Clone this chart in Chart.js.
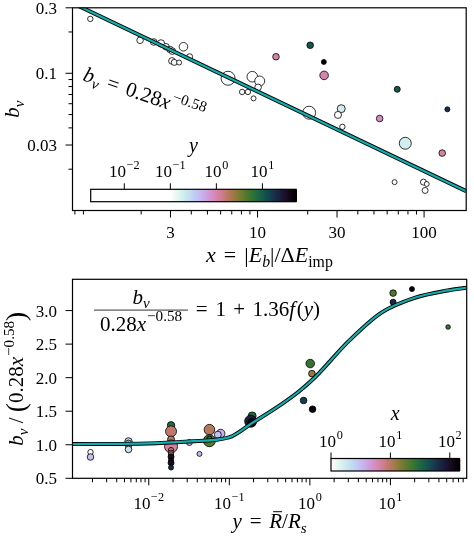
<!DOCTYPE html>
<html>
<head>
<meta charset="utf-8">
<script src="https://cdn.jsdelivr.net/npm/chart.js@4.4.1/dist/chart.umd.min.js"></script>
<style>
html, body { margin: 0; padding: 0; background: #fff; }
canvas { display: block; }
</style>
</head>
<body>
<canvas id="topChart" width="474" height="272"></canvas>
<canvas id="bottomChart" width="474" height="266"></canvas>
<script>
const SERIF = '"Liberation Serif", "DejaVu Serif", serif';

// top panel: x = |E_b|/dE_imp vs b_v, colour = y, marker radius
const topX = [0.99, 1.97, 2.38, 2.63, 2.82, 2.98, 3.08, 3.59, 3.91, 3.06, 3.16, 3.38,
    6.65, 9.30, 10.3, 10.07, 8.08, 8.75, 9.46, 12.9, 20.7, 25.0, 25.1, 20.4,
    31.8, 30.4, 32.3, 69.0, 54.1, 138, 77.1, 128.5, 66.5, 99.1, 103.7, 101.4];
const topB = [0.249, 0.174, 0.169, 0.165, 0.156, 0.149, 0.145, 0.156, 0.132, 0.123, 0.120, 0.1197,
    0.092, 0.0944, 0.0878, 0.079, 0.0731, 0.0731, 0.0656, 0.132, 0.160, 0.121, 0.0965, 0.0516,
    0.0552, 0.0497, 0.0407, 0.0764, 0.0468, 0.0546, 0.0309, 0.0262, 0.0161, 0.0161, 0.0156, 0.0140];
const topYc = [0.0019, 0.0056, 0.0056, 0.0056, 0.0056, 0.0189, 0.0319, 0.078, 0.0319, 0.0019, 0.0189, 0.0426,
    0.0189, 0.0189, 0.0566, 0.0189, 0.0189, 0.0189, 0.0189, 1.06, 10.8, 52, 1.01, 0.0566,
    0.192, 0.0189, 0.0566, 10.8, 0.836, 18.5, 0.184, 1.08, 0.0189, 0.0189, 0.0189, 0.0189];
const topR = [2.7, 3.3, 3.3, 3.7, 3.3, 3.3, 3.3, 4.3, 3, 3.3, 3, 2.5,
    7, 5.3, 5, 3.3, 2.7, 2.7, 2.5, 3.3, 3.3, 2.5, 4.3, 6.5,
    4, 3.5, 2.7, 3, 3.3, 2.5, 6, 3.3, 2.5, 3, 2.5, 3];

// bottom panel: y = R/R_s vs b_v/(0.28x^-0.58), colour = x
const botY = [0.00189, 0.00189, 0.0056, 0.0056, 0.0056, 0.0056, 0.0189, 0.0189, 0.0189, 0.0189, 0.0189, 0.0189,
    0.0189, 0.0189, 0.0189, 0.0189, 0.0189, 0.0319, 0.0426, 0.0566, 0.0566, 0.0566, 0.078, 0.072,
    0.192, 0.184, 0.19, 0.836, 1.08, 1.01, 1.06, 10.8, 10.8, 18.5, 52];
const botRatio = [0.89, 0.817, 1.05, 1.02, 0.99, 0.93, 1.29, 1.20, 1.08, 0.975, 0.92, 0.88,
    0.86, 0.82, 0.77, 0.73, 0.66, 1.033, 0.864, 1.225, 1.06, 1.09, 1.167, 1.15,
    1.43, 1.35, 1.33, 1.66, 1.53, 2.21, 2.06, 3.26, 3.125, 3.32, 2.755];
const botXc = [1.0, 3.06, 2.63, 2.82, 2.4, 1.97, 30.4, 9.3, 10.07, 6.65, 8.75, 8.08,
    9.46, 99, 104, 101, 66.5, 3.9, 3.38, 10.3, 20.4, 32.3, 3.59, 3.0,
    31.8, 77.1, 120, 54.1, 128.5, 25.1, 12.9, 20.7, 69, 138, 25];
const botR = [2.7, 3.3, 3.7, 3.3, 3.3, 3.3, 3.7, 5.5, 3.5, 6.5, 2.7, 2.7,
    2.5, 3, 2.5, 3, 2.5, 3, 2.5, 5.3, 6, 2.7, 4.3, 3.5,
    4, 6, 4, 3.3, 3.3, 4.3, 3.3, 3.3, 3, 2.5, 2.3];

// fit lines
const fitX = [0.774, 179];
const fitB = [0.3245, 0.01383];
const curveY = [0.00113, 0.01, 0.0318, 0.0991, 0.19, 0.451, 0.724, 1.167, 3.006, 7.74, 20.0, 51.5, 89.1];
const curveRatio = [1.01, 1.02, 1.05, 1.11, 1.32, 1.61, 1.79, 2.01, 2.54, 2.97, 3.19, 3.30, 3.34];

// ticks
const topXTicks = [3, 10, 30, 100];
const topXLabels = ['3', '10', '30', '100'];
const topXMinor = [0.8, 0.9, 2, 4, 5, 6, 7, 8, 9, 20, 40, 50, 60, 70, 80, 90];
const topYTicks = [0.03, 0.1, 0.3];
const topYLabels = ['0.03', '0.1', '0.3'];
const topYMinor = [0.02, 0.04, 0.05, 0.06, 0.07, 0.08, 0.09, 0.2];
const botXExp = [-2, -1, 0, 1];
const botYTicks = [0.5, 1.0, 1.5, 2.0, 2.5, 3.0];
const topCbarExp = [-2, -1, 0, 1];
const botCbarExp = [0, 1, 2];

function cubehelix(s) {
    const a = s * (1 - s) / 2;
    const phi = 2 * Math.PI * (0.5 / 3 - 1.5 * s);
    const c = Math.cos(phi), sn = Math.sin(phi);
    const ch = (p0, p1) => Math.round(255 * Math.min(1, Math.max(0, s + a * (p0 * c + p1 * sn))));
    return `rgb(${ch(-0.14861, 1.78277)},${ch(-0.29227, -0.90649)},${ch(1.97294, 0)})`;
}
const clamp01 = v => Math.min(1, Math.max(0, v));
const yLogColor = ly => cubehelix(1 - clamp01((ly + 1) / 2.73));
const xLogColor = lx => cubehelix(1 - clamp01(lx / 2.16));

// segs: [text, style]; style letters: i italic, ^ sup, _ sub, b overbar, L large, g gap (text = em)
function drawRich(ctx, segs, x, y, size, align) {
    const parts = segs.map(s => {
        const st = s[1] || '';
        if (st === 'g') return { gap: true, w: size * s[0] };
        let fs = size, dy = 0;
        if (st.includes('^')) { fs = size * 0.72; dy = -size * 0.45; }
        if (st.includes('_')) { fs = size * 0.72; dy = size * 0.22; }
        if (st.includes('L')) { fs = size * 1.3; dy = size * 0.08; }
        const font = (st.includes('i') ? 'italic ' : '') + fs + 'px ' + SERIF;
        ctx.font = font;
        return { t: s[0], font, dy, fs, w: ctx.measureText(s[0]).width, bar: st.includes('b') };
    });
    const total = parts.reduce((a, p) => a + p.w, 0);
    let cx = align === 'center' ? x - total / 2 : align === 'right' ? x - total : x;
    ctx.textAlign = 'left';
    ctx.textBaseline = 'alphabetic';
    ctx.fillStyle = '#000';
    for (const p of parts) {
        if (!p.gap) {
            ctx.font = p.font;
            ctx.fillText(p.t, cx, y + p.dy);
            if (p.bar) ctx.fillRect(cx + p.w * 0.3, y - p.fs * 0.8, p.w * 0.7, 1);
        }
        cx += p.w;
    }
    return total;
}

const pow10 = e => [['10'], [0.04, 'g'], [(e < 0 ? '\u2212' : '') + Math.abs(e), '^']];
const EQ = [[0.12, 'g'], [' = '], [0.12, 'g']];

function frame(ctx, a) {
    ctx.strokeStyle = '#000';
    ctx.lineWidth = 1.2;
    ctx.strokeRect(a.left, a.top, a.right - a.left, a.bottom - a.top);
}
function xTicks(ctx, scale, a, vals, len) {
    ctx.strokeStyle = '#000';
    ctx.lineWidth = 1;
    vals.forEach(v => {
        const p = scale.getPixelForValue(v);
        if (p < a.left - 0.5 || p > a.right + 0.5) return;
        ctx.beginPath(); ctx.moveTo(p, a.bottom); ctx.lineTo(p, a.bottom + len); ctx.stroke();
    });
}
function yTicks(ctx, scale, a, vals, len) {
    ctx.strokeStyle = '#000';
    ctx.lineWidth = 1;
    vals.forEach(v => {
        const p = scale.getPixelForValue(v);
        ctx.beginPath(); ctx.moveTo(a.left - len, p); ctx.lineTo(a.left, p); ctx.stroke();
    });
}
function colorbar(ctx, x0, y0, w, h, lo, hi, colorFn, exps, label, labelY, tickY) {
    for (let i = 0; i < w; i++) {
        const v = lo + (hi - lo) * (i + 0.5) / w;
        ctx.fillStyle = colorFn(v);
        ctx.fillRect(x0 + i, y0, 1.3, h);
    }
    ctx.strokeStyle = '#000';
    ctx.lineWidth = 1.2;
    ctx.strokeRect(x0, y0, w, h);
    ctx.lineWidth = 1;
    exps.forEach(e => {
        const p = x0 + (e - lo) / (hi - lo) * w;
        ctx.beginPath(); ctx.moveTo(p, y0); ctx.lineTo(p, y0 - 6); ctx.stroke();
        drawRich(ctx, pow10(e), p, tickY, 17, 'center');
    });
    drawRich(ctx, [[label, 'i']], x0 + w / 2, labelY, 20, 'center');
}

const topDeco = {
    id: 'topDeco',
    afterDraw(chart) {
        const { ctx, chartArea: a, scales: { x, y } } = chart;
        ctx.save();
        frame(ctx, a);
        xTicks(ctx, x, a, topXTicks, 7);
        xTicks(ctx, x, a, topXMinor, 4);
        yTicks(ctx, y, a, topYTicks, 7);
        yTicks(ctx, y, a, topYMinor, 4);
        topXTicks.forEach((v, i) => drawRich(ctx, [[topXLabels[i]]], x.getPixelForValue(v), 237.5, 17, 'center'));
        topYTicks.forEach((v, i) => drawRich(ctx, [[topYLabels[i]]], 57, y.getPixelForValue(v) + 6, 17, 'right'));
        drawRich(ctx, [['x', 'i']].concat(EQ, [['|'], ['E', 'i'], ['b', 'i_'], ['|/\u0394'], ['E', 'i'], ['imp', '_']]),
            (a.left + a.right) / 2, 262, 22, 'center');
        ctx.save();
        ctx.translate(19, (a.top + a.bottom) / 2);
        ctx.rotate(-Math.PI / 2);
        drawRich(ctx, [['b', 'i'], ['v', 'i_']], 0, 0, 21, 'center');
        ctx.restore();
        ctx.save();
        ctx.translate(82, 80);
        ctx.rotate(19 * Math.PI / 180);
        drawRich(ctx, [['b', 'i'], ['v', 'i_']].concat(EQ, [['0.28'], ['x', 'i'], [0.05, 'g'], ['\u22120.58', '^']]),
            0, 0, 21, 'left');
        ctx.restore();
        colorbar(ctx, 90.7, 189.3, 205.3, 12.4, -2.73, 1.73, yLogColor, topCbarExp, 'y', 152, 177);
        ctx.restore();
    }
};

// bottom canvas starts at page y = 272
const botDeco = {
    id: 'botDeco',
    afterDraw(chart) {
        const { ctx, chartArea: a, scales: { x, y } } = chart;
        ctx.save();
        frame(ctx, a);
        const minors = [];
        for (let e = -3; e <= 1; e++) for (let m = 2; m <= 9; m++) minors.push(m * Math.pow(10, e));
        xTicks(ctx, x, a, botXExp.map(e => Math.pow(10, e)), 7);
        xTicks(ctx, x, a, minors, 4);
        yTicks(ctx, y, a, botYTicks, 7);
        botXExp.forEach(e => drawRich(ctx, pow10(e), x.getPixelForValue(Math.pow(10, e)), 236.5, 17, 'center'));
        botYTicks.forEach(v => drawRich(ctx, [[v.toFixed(1)]], 57, y.getPixelForValue(v) + 6, 17, 'right'));
        drawRich(ctx, [['y', 'i']].concat(EQ, [['R', 'ib'], ['/'], ['R', 'i'], ['s', 'i_']]),
            (a.left + a.right) / 2, 256, 21, 'center');
        ctx.save();
        ctx.translate(23, (a.top + a.bottom) / 2);
        ctx.rotate(-Math.PI / 2);
        drawRich(ctx, [['b', 'i'], ['v', 'i_'], [' / '], ['(', 'L'], ['0.28'], ['x', 'i'], [0.05, 'g'],
            ['\u22120.58', '^'], [')', 'L']], 0, 0, 21, 'center');
        ctx.restore();
        // fraction annotation
        drawRich(ctx, [['b', 'i'], ['v', 'i_']], 141, 31.5, 21, 'center');
        ctx.fillStyle = '#555';
        ctx.fillRect(94, 37.5, 94, 1.2);
        drawRich(ctx, [['0.28'], ['x', 'i'], [0.05, 'g'], ['\u22120.58', '^']], 141, 58.5, 21, 'center');
        drawRich(ctx, EQ.concat([['1'], [0.1, 'g'], [' + '], [0.1, 'g'], ['1.36'], ['f', 'i'], [0.08, 'g'], ['('], ['y', 'i'], [')']]),
            188, 44, 21, 'left');
        colorbar(ctx, 331, 186.5, 128.3, 12.5, 0, 2.16, xLogColor, botCbarExp, 'x', 148, 174.5);
        ctx.restore();
    }
};

function makeChart(id, cfg) {
    return new Chart(document.getElementById(id), {
        type: 'scatter',
        data: { datasets: cfg.datasets },
        options: {
            responsive: false,
            animation: false,
            events: [],
            layout: { padding: { left: 0, right: 5, top: cfg.padTop, bottom: 0 } },
            plugins: { legend: { display: false }, tooltip: { enabled: false } },
            scales: {
                x: {
                    type: 'logarithmic', min: cfg.xMin, max: cfg.xMax,
                    grid: { display: false }, ticks: { display: false }, border: { display: false },
                    afterFit: s => { s.height = cfg.xAxisH; }
                },
                y: {
                    type: cfg.yType, min: cfg.yMin, max: cfg.yMax,
                    grid: { display: false }, ticks: { display: false }, border: { display: false },
                    afterFit: s => { s.width = 72.5; }
                }
            }
        },
        plugins: [cfg.deco]
    });
}

function fitSets(pts, smooth) {
    const base = { type: 'line', data: pts, pointRadius: 0, clip: 0, fill: false,
        cubicInterpolationMode: smooth ? 'monotone' : 'default' };
    return [
        Object.assign({}, base, { borderColor: '#000', borderWidth: 4, order: 1 }),
        Object.assign({}, base, { borderColor: '#12adad', borderWidth: 2.2, order: 0 })
    ];
}

makeChart('topChart', {
    xMin: 0.774, xMax: 179, yMin: 0.01, yMax: 0.3, yType: 'logarithmic',
    padTop: 5.3, xAxisH: 61.5, deco: topDeco,
    datasets: [{
        data: topX.map((v, i) => ({ x: v, y: topB[i] })),
        pointRadius: topR,
        pointBackgroundColor: topYc.map(v => yLogColor(Math.log10(v))),
        pointBorderColor: '#000',
        pointBorderWidth: 0.8,
        order: 2
    }].concat(fitSets(fitX.map((v, i) => ({ x: v, y: fitB[i] })), false))
});

makeChart('bottomChart', {
    xMin: 0.00113, xMax: 88.5, yMin: 0.5, yMax: 3.466, yType: 'linear',
    padTop: 0.7, xAxisH: 59.7, deco: botDeco,
    datasets: [{
        data: botY.map((v, i) => ({ x: v, y: botRatio[i] })),
        pointRadius: botR,
        pointBackgroundColor: botXc.map(v => xLogColor(Math.log10(v))),
        pointBorderColor: '#000',
        pointBorderWidth: 0.8,
        order: 2
    }].concat(fitSets(curveY.map((v, i) => ({ x: v, y: curveRatio[i] })), true))
});
</script>
</body>
</html>
